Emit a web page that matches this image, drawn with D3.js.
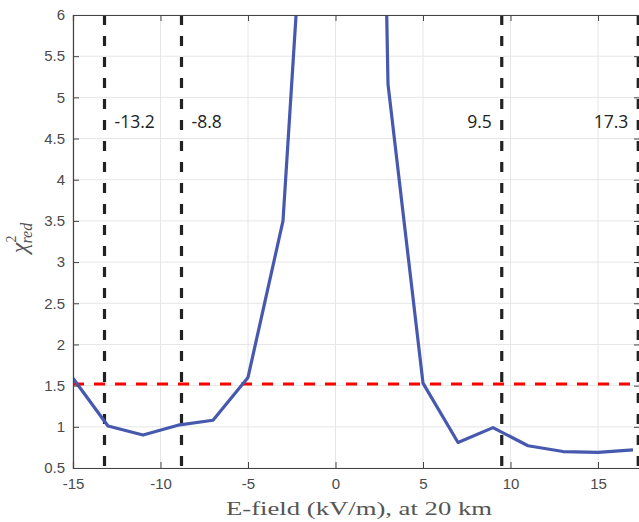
<!DOCTYPE html>
<html><head><meta charset="utf-8">
<script src="https://cdn.jsdelivr.net/npm/d3@7"></script>
<style>body{margin:0;background:#fff}svg{display:block}</style>
</head><body>
<svg id="c" width="639" height="522"></svg>
<script>
const fieldKV = [-15,-13,-11,-9,-7,-5,-3,-1,1,3,5,7,9,11,13,15,17];
const chi2 = [1.59,1.01,0.90,1.02,1.08,1.60,3.50,10.2,28,5.16,1.53,0.81,0.99,0.77,0.70,0.69,0.72];
const boundaries = [-13.2,-8.8,9.5,17.3];
const boundaryLabels = ["-13.2","-8.8","9.5","17.3"];
const threshold = 1.52;
const xTicks = [-15,-10,-5,0,5,10,15];
const yTicks = [0.5,1,1.5,2,2.5,3,3.5,4,4.5,5,5.5,6];

const svg = d3.select("#c");
const L=73, R=640, T=15, B=468;
const x = d3.scaleLinear().domain([-15,17.4]).range([L,R]);
const y = d3.scaleLinear().domain([0.5,6]).range([B,T]);

svg.append("defs").append("clipPath").attr("id","clip")
  .append("rect").attr("x",L).attr("y",T).attr("width",R-L).attr("height",B-T);

// grid
const g = svg.append("g");
g.selectAll(".gx").data(xTicks).join("line")
  .attr("x1",d=>x(d)).attr("x2",d=>x(d)).attr("y1",T).attr("y2",B)
  .attr("stroke","#e6e6e6").attr("stroke-width",1);
g.selectAll(".gy").data(yTicks).join("line")
  .attr("y1",d=>y(d)).attr("y2",d=>y(d)).attr("x1",L).attr("x2",R)
  .attr("stroke","#e6e6e6").attr("stroke-width",1);

const plot = svg.append("g").attr("clip-path","url(#clip)");

// vertical boundaries
plot.selectAll(".vb").data(boundaries).join("line")
  .attr("x1",d=>x(d)).attr("x2",d=>x(d)).attr("y1",T).attr("y2",B)
  .attr("stroke","#222").attr("stroke-width",3.2).attr("stroke-dasharray","10,11");

// threshold
plot.append("line").attr("x1",x(-15)).attr("x2",R).attr("y1",y(threshold)).attr("y2",y(threshold))
  .attr("stroke","#ff0000").attr("stroke-width",3.2).attr("stroke-dasharray","11,10");

// curve
plot.append("path").datum(fieldKV.map((v,i)=>[v,chi2[i]]))
  .attr("fill","none").attr("stroke","#4659ae").attr("stroke-width",3.2).attr("stroke-linejoin","round")
  .attr("d",d3.line().x(d=>x(d[0])).y(d=>y(d[1])));

// axes
const tickCol = "#4a4a4a";
const xb = d3.axisBottom(x).tickValues(xTicks).tickSize(-6).tickPadding(10).tickFormat(d=>String(d));
const xt = d3.axisTop(x).tickValues(xTicks).tickSize(-6).tickFormat("");
const yl = d3.axisLeft(y).tickValues(yTicks).tickSize(-6).tickPadding(8).tickFormat(d=>String(d));
const yr = d3.axisRight(y).tickValues(yTicks).tickSize(-6).tickFormat("");
function style(sel){
  sel.selectAll("path").attr("stroke","#444").attr("stroke-width",1.2);
  sel.selectAll("line").attr("stroke","#444").attr("stroke-width",1);
  sel.selectAll("text").attr("fill",tickCol).attr("font-family","'Liberation Sans', Arial, sans-serif").attr("font-size",15);
}
svg.append("g").attr("transform",`translate(0,${B})`).call(xb).call(style);
svg.append("g").attr("transform",`translate(0,${T})`).call(xt).call(style);
svg.append("g").attr("transform",`translate(${L},0)`).call(yl).call(style);
svg.append("g").attr("transform",`translate(${R},0)`).call(yr).call(style);

// boundary labels
const lab = svg.append("g").attr("font-family","'Open Sans', sans-serif").attr("font-size",17.5).attr("fill","#222");
boundaries.forEach((b,i)=>{
  const right = b>0;
  lab.append("text").attr("x", right ? x(b)-10 : x(b)+10).attr("y",128)
    .attr("text-anchor", right ? "end" : "start").text(boundaryLabels[i]);
});

// axis labels
svg.append("text").attr("x",359).attr("y",515).attr("text-anchor","middle")
  .attr("font-family","'Liberation Serif', 'DejaVu Serif', serif").attr("font-size",19.5).attr("fill","#555")
  .attr("textLength",266).attr("lengthAdjust","spacingAndGlyphs")
  .text("E-field (kV/m), at 20 km");
const yt = svg.append("text").attr("transform","translate(27,238) rotate(-90)").attr("text-anchor","middle")
  .attr("font-family","'Liberation Serif', 'DejaVu Serif', serif").attr("fill","#555").attr("font-size",24);
yt.append("tspan").attr("font-style","italic").text("χ");
yt.append("tspan").attr("font-size",14).attr("dy",-11).text("2");
yt.append("tspan").attr("font-size",16).attr("font-style","italic").attr("dx",-8).attr("dy",16).text("red");
</script>
</body></html>
